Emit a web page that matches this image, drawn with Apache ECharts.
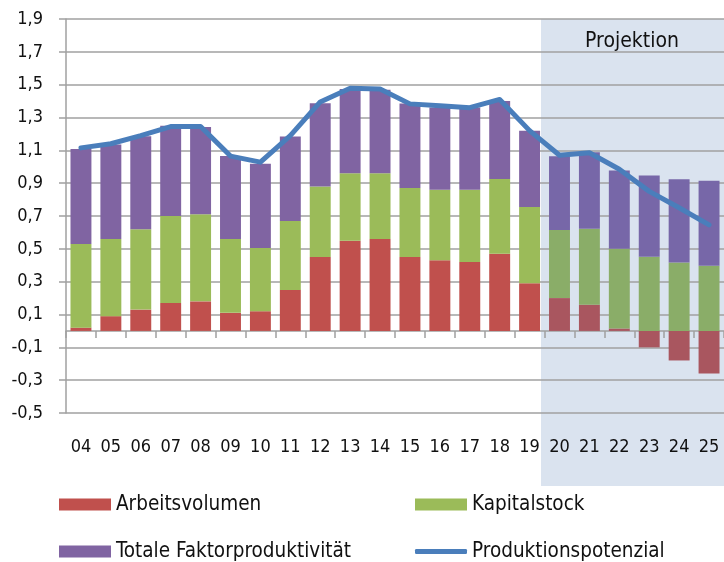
<!DOCTYPE html>
<html>
<head>
<meta charset="utf-8">
<script src="https://cdn.jsdelivr.net/npm/echarts@6/dist/echarts.min.js"></script>
<style>
    html, body { margin: 0; padding: 0; background: #fff; }
    #chart { width: 724px; height: 562px; }
</style>
</head>
<body>
<div id="chart"></div>
<script>
var years = ['04', '05', '06', '07', '08', '09', '10', '11', '12', '13', '14',
    '15', '16', '17', '18', '19', '20', '21', '22', '23', '24', '25'];
var arbeitsvolumen = [0.02, 0.09, 0.13, 0.17, 0.18, 0.11, 0.12, 0.25, 0.45, 0.55, 0.56,
    0.45, 0.43, 0.42, 0.47, 0.29, 0.20, 0.16, 0.015, -0.10, -0.18, -0.26];
var kapitalstock = [0.51, 0.47, 0.49, 0.53, 0.53, 0.45, 0.385, 0.42, 0.43, 0.41, 0.40,
    0.42, 0.43, 0.44, 0.456, 0.465, 0.414, 0.463, 0.485, 0.452, 0.417, 0.397];
var tfp = [0.578, 0.576, 0.566, 0.55, 0.532, 0.505, 0.514, 0.515, 0.507, 0.513, 0.509,
    0.515, 0.501, 0.501, 0.475, 0.465, 0.45, 0.465, 0.477, 0.494, 0.507, 0.517];
var potenzial = [1.115, 1.14, 1.19, 1.245, 1.245, 1.065, 1.028, 1.19, 1.395, 1.478, 1.474,
    1.383, 1.371, 1.36, 1.41, 1.22, 1.07, 1.085, 0.985, 0.85, 0.75, 0.646];
var yTicks = [-0.5, -0.3, -0.1, 0.1, 0.3, 0.5, 0.7, 0.9, 1.1, 1.3, 1.5, 1.7, 1.9];
var projStart = 16; // '20'

var chart = echarts.init(document.getElementById('chart'));
var gridColor = '#a0a0a0';
var font = 'DejaVu Sans Condensed';

function barData(values, color, projColor) {
    return values.map(function (v, i) {
        return { value: v, itemStyle: { color: i >= projStart ? projColor : color } };
    });
}

function fmt(v) {
    return v.toFixed(1).replace('.', ',');
}

// one legend per entry, laid out as the 2x2 block under the chart
function legendItem(name, left, top, extra) {
    var l = {
        left: left, top: top, padding: 0,
        itemWidth: 52, itemHeight: 12, itemTextGap: 5,
        textStyle: { fontFamily: font, fontSize: 20.5, color: '#111', lineHeight: 20 },
        data: [{ name: name, icon: 'rect' }]
    };
    return Object.assign(l, extra || {});
}

chart.setOption({
    animation: false,
    grid: { left: 66, top: 19, width: 660, height: 394 },
    graphic: [
        {
            type: 'rect', z: -10,
            shape: { x: 541, y: 19, width: 190, height: 467 },
            style: { fill: '#dae3ef' }
        },
        {
            type: 'text', z: 100,
            style: {
                text: 'Projektion', x: 632, y: 42,
                textAlign: 'center', textVerticalAlign: 'middle',
                font: '21px "DejaVu Sans Condensed"', fill: '#111'
            }
        }
    ],
    legend: [
        legendItem('Arbeitsvolumen', 59, 494),
        legendItem('Totale Faktorproduktivität', 59, 541),
        legendItem('Kapitalstock', 415, 494),
        legendItem('Produktionspotenzial', 415, 541, {
            itemHeight: 5,
            lineStyle: { width: 5, cap: 'round' },
            data: [{ name: 'Produktionspotenzial', icon: 'roundRect' }]
        })
    ],
    xAxis: {
        type: 'category',
        data: years,
        axisLine: { onZero: true, lineStyle: { color: gridColor, width: 1.5 } },
        axisTick: { show: true, interval: 0, length: 7, lineStyle: { color: gridColor, width: 1.5 } },
        axisLabel: {
            interval: 0, margin: 25,
            fontFamily: font, fontSize: 18, color: '#111'
        },
        splitLine: { show: false }
    },
    yAxis: {
        type: 'value',
        min: -0.5,
        max: 1.9,
        axisLine: { show: true, lineStyle: { color: gridColor, width: 1.5 } },
        axisTick: { show: true, length: 7, customValues: yTicks, lineStyle: { color: gridColor, width: 1.5 } },
        axisLabel: {
            customValues: yTicks, margin: 23,
            fontFamily: font, fontSize: 18, color: '#111',
            formatter: fmt
        },
        splitLine: { show: true, lineStyle: { color: gridColor, width: 1.5 } }
    },
    series: [
        {
            name: 'Arbeitsvolumen', type: 'bar', stack: 'total',
            barCategoryGap: '30%',
            itemStyle: { color: '#c0504d' },
            data: barData(arbeitsvolumen, '#c0504d', '#a9565f')
        },
        {
            name: 'Kapitalstock', type: 'bar', stack: 'total',
            itemStyle: { color: '#9bbb59' },
            data: barData(kapitalstock, '#9bbb59', '#8aad68')
        },
        {
            name: 'Totale Faktorproduktivität', type: 'bar', stack: 'total',
            itemStyle: { color: '#8064a2' },
            data: barData(tfp, '#8064a2', '#7767a8')
        },
        {
            name: 'Produktionspotenzial', type: 'line',
            symbol: 'none',
            lineStyle: { color: '#4a7ebb', width: 5, join: 'round', cap: 'round' },
            itemStyle: { color: '#4a7ebb' },
            data: potenzial,
            z: 5
        }
    ]
});
</script>
</body>
</html>
